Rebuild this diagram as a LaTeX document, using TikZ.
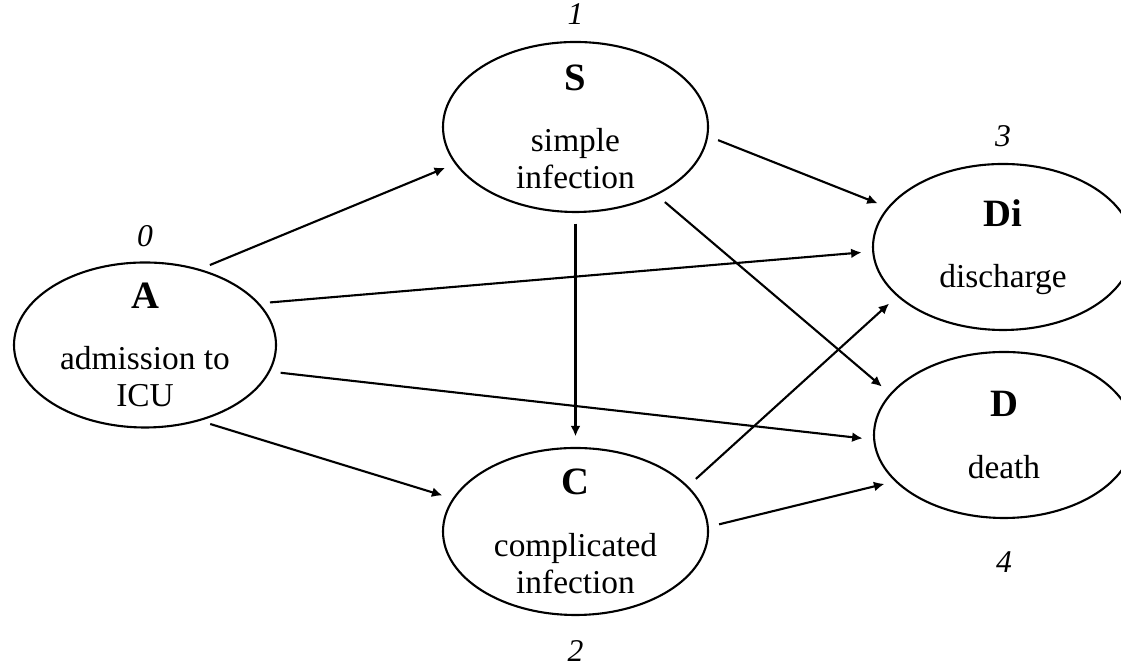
\documentclass[tikz,border=0pt]{standalone}
\usepackage{fontspec}
\setmainfont{Liberation Serif}
\usetikzlibrary{arrows.meta, shapes.geometric, positioning}

\newcommand{\statelbl}[1]{{\fontsize{11}{12}\selectfont\bfseries #1}\\[7pt]}

\begin{document}
\begin{tikzpicture}[
    state/.style={draw, ellipse, line width=0.6pt, inner xsep=0pt, inner ysep=-1.5mm, align=center, font=\fontsize{9.5}{10.5}\selectfont},
    num/.style={inner sep=0pt, font=\fontsize{9}{10}\selectfont\itshape},
    trans/.style={->, line width=0.6pt, >={Latex[length=3pt, width=2.8pt]}, shorten <=3pt, shorten >=3pt}
  ]
      \useasboundingbox (0,0) rectangle (11.21,6.68);
      \clip (0,0) rectangle (11.21,6.68);

      \node[state, minimum width=2.62cm, minimum height=1.65cm] (A) at (1.45,3.23) {\statelbl{A}admission to\\ICU};
      \node[state, minimum width=2.65cm, minimum height=1.70cm] (S) at (5.755,5.41) {\statelbl{S}simple\\infection};
      \node[state, minimum width=2.65cm, minimum height=1.67cm] (C) at (5.755,1.365) {\statelbl{C}complicated\\infection};
      \node[state, minimum width=2.60cm, minimum height=1.66cm] (Di) at (10.03,4.21) {\statelbl{Di}discharge};
      \node[state, minimum width=2.60cm, minimum height=1.66cm] (D) at (10.04,2.33) {\statelbl{D}death};

      \node[num, above=1.4mm of A] (n0) {0};
      \node[num, above=1.6mm of S] (n1) {1};
      \node[num, below=2.4mm of C] (n2) {2};
      \node[num, above=1.5mm of Di] (n3) {3};
      \node[num, below=3.2mm of D] (n4) {4};

      \draw[trans] (A.54) -- (S.197);
      \draw[trans] (A.20) -- (Di.182);
      \draw[trans] (A.348) -- (D.182);
      \draw[trans] (A.306) -- (C.165);
      \draw[trans] (S.south) -- (C.north);
      \draw[trans] (S.356) -- (Di.161);
      \draw[trans] (S.320) -- (D.160);
      \draw[trans] (C.22) -- (Di.205);
      \draw[trans] (C.2) -- (D.203);
    \end{tikzpicture}
\end{document}
